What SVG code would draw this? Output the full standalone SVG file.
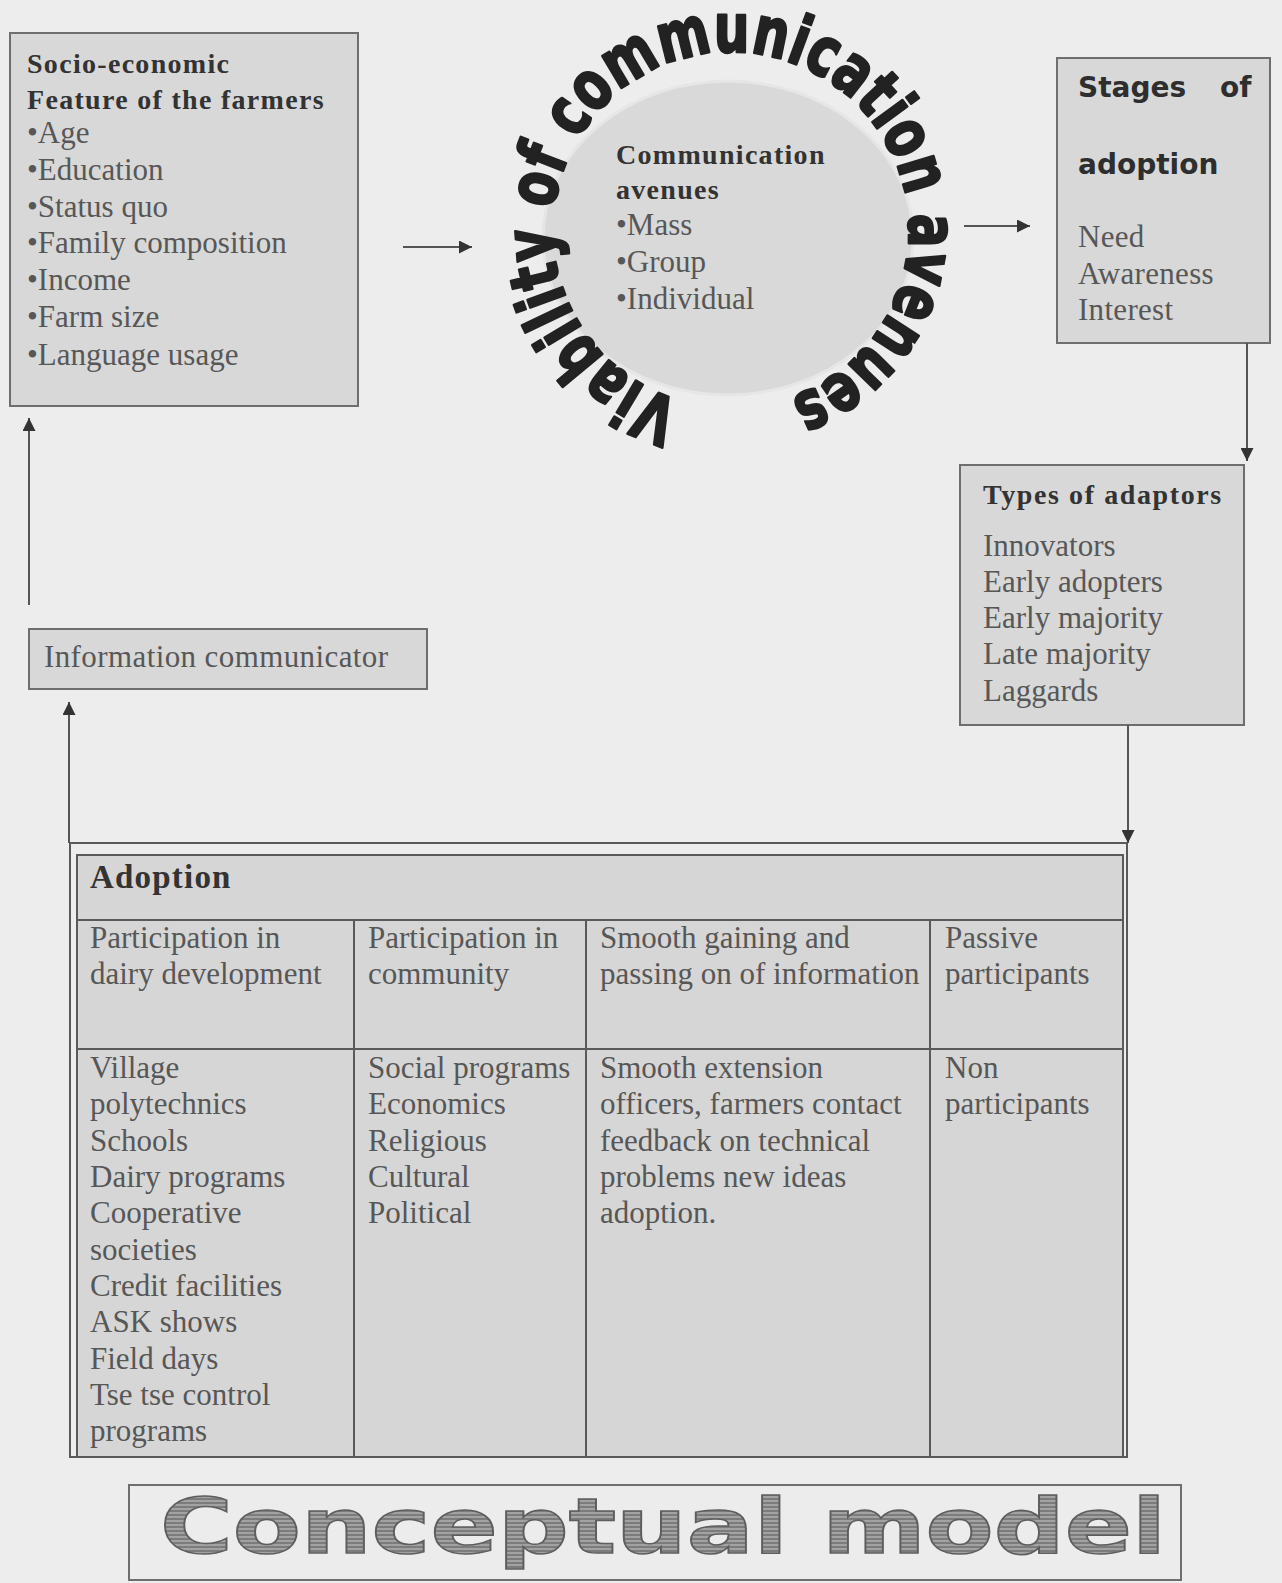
<svg xmlns="http://www.w3.org/2000/svg" width="1282" height="1583" viewBox="0 0 1282 1583">
<defs>
<style>
.box{fill:#d8d8d8;stroke:#6e6e6e;stroke-width:2}
.reg{font-family:"Liberation Serif","Times New Roman",serif;font-size:31px;fill:#575757}
.tab{font-family:"Liberation Serif","Times New Roman",serif;font-size:31px;fill:#575757}
.bold{font-family:"Liberation Serif","Times New Roman",serif;font-size:28px;font-weight:bold;letter-spacing:1.3px;fill:#333}
.sans{font-family:"DejaVu Sans","Liberation Sans",sans-serif;font-size:28px;font-weight:bold;fill:#2e2e2e}
.ln{fill:none;stroke:#5a5a5a;stroke-width:2}
.conn{fill:none;stroke:#555;stroke-width:2}
</style>
<marker id="ah" viewBox="0 0 10 10" refX="10" refY="5" markerWidth="16" markerHeight="13" markerUnits="userSpaceOnUse" orient="auto">
<path d="M0,0 L10,5 L0,10 z" fill="#333"/>
</marker>
<pattern id="stripes" patternUnits="userSpaceOnUse" width="4" height="4">
<rect width="4" height="4" fill="#7c7c7c"/>
<rect width="4" height="2" fill="#a2a2a2"/>
</pattern>
<path id="ring" d="M681.9,401.1 A178,178 0 1 1 783.0,400.2"/>
</defs>
<rect width="1282" height="1583" fill="#ededed"/>

<g id="socio">
<rect class="box" x="10" y="33" width="348" height="373"/>
<text class="bold" x="27" y="73">Socio-economic</text>
<text class="bold" x="27" y="109">Feature of the farmers</text>
<text class="reg" x="27" y="143">•Age</text>
<text class="reg" x="27" y="180">•Education</text>
<text class="reg" x="27" y="217">•Status quo</text>
<text class="reg" x="27" y="253">•Family composition</text>
<text class="reg" x="27" y="290">•Income</text>
<text class="reg" x="27" y="327">•Farm size</text>
<text class="reg" x="27" y="365">•Language usage</text>
</g>

<g id="avenues">
<ellipse cx="728" cy="238" rx="185" ry="157" fill="#d9d9d9" stroke="#e6e6e6" stroke-width="3"/>
<text style="font-family:'DejaVu Sans','Liberation Sans',sans-serif;font-size:68px;font-weight:bold;fill:#222;stroke:#222;stroke-width:2.5;stroke-linejoin:round"><textPath href="#ring" textLength="1008" lengthAdjust="spacingAndGlyphs">Viability of communication avenues</textPath></text>
<text class="bold" x="616" y="164">Communication</text>
<text class="bold" x="616" y="199">avenues</text>
<text class="reg" x="616" y="235">•Mass</text>
<text class="reg" x="616" y="272">•Group</text>
<text class="reg" x="616" y="309">•Individual</text>
</g>

<g id="stages">
<rect class="box" x="1057" y="58" width="213" height="285"/>
<text class="sans" x="1078" y="97">Stages</text>
<text class="sans" x="1220" y="97">of</text>
<text class="sans" x="1078" y="174">adoption</text>
<text class="reg" x="1078" y="247" style="letter-spacing:0.3px">Need</text>
<text class="reg" x="1078" y="284" style="letter-spacing:0.3px">Awareness</text>
<text class="reg" x="1078" y="320" style="letter-spacing:0.3px">Interest</text>
</g>

<g id="types">
<rect class="box" x="960" y="465" width="284" height="260"/>
<text class="bold" x="983" y="504" style="letter-spacing:1.6px">Types of adaptors</text>
<text class="reg" x="983" y="556">Innovators</text>
<text class="reg" x="983" y="592">Early adopters</text>
<text class="reg" x="983" y="628">Early majority</text>
<text class="reg" x="983" y="664">Late majority</text>
<text class="reg" x="983" y="701">Laggards</text>
</g>

<g id="communicator">
<rect class="box" x="29" y="629" width="398" height="60"/>
<text class="reg" x="44" y="667" style="letter-spacing:0.4px">Information communicator</text>
</g>

<g id="adoption">
<rect x="70" y="843" width="1057" height="614" fill="none" stroke="#5a5a5a" stroke-width="2"/>
<rect x="77" y="855" width="1046" height="602" fill="#d6d6d6" stroke="#5a5a5a" stroke-width="2"/>
<line class="ln" x1="77" y1="920" x2="1123" y2="920"/>
<line class="ln" x1="77" y1="1049" x2="1123" y2="1049"/>
<line class="ln" x1="354" y1="920" x2="354" y2="1457"/>
<line class="ln" x1="586" y1="920" x2="586" y2="1457"/>
<line class="ln" x1="930" y1="920" x2="930" y2="1457"/>
<text x="90" y="888" style="font-family:'Liberation Serif','Times New Roman',serif;font-size:33px;font-weight:bold;letter-spacing:1.2px;fill:#333">Adoption</text>
<text class="tab" x="90" y="948">Participation in</text>
<text class="tab" x="90" y="984">dairy development</text>
<text class="tab" x="368" y="948">Participation in</text>
<text class="tab" x="368" y="984">community</text>
<text class="tab" x="600" y="948">Smooth gaining and</text>
<text class="tab" x="600" y="984">passing on of information</text>
<text class="tab" x="945" y="948">Passive</text>
<text class="tab" x="945" y="984">participants</text>
<text class="tab" x="90" y="1078">Village</text>
<text class="tab" x="90" y="1114">polytechnics</text>
<text class="tab" x="90" y="1151">Schools</text>
<text class="tab" x="90" y="1187">Dairy programs</text>
<text class="tab" x="90" y="1223">Cooperative</text>
<text class="tab" x="90" y="1260">societies</text>
<text class="tab" x="90" y="1296">Credit facilities</text>
<text class="tab" x="90" y="1332">ASK shows</text>
<text class="tab" x="90" y="1369">Field days</text>
<text class="tab" x="90" y="1405">Tse tse control</text>
<text class="tab" x="90" y="1441">programs</text>
<text class="tab" x="368" y="1078">Social programs</text>
<text class="tab" x="368" y="1114">Economics</text>
<text class="tab" x="368" y="1151">Religious</text>
<text class="tab" x="368" y="1187">Cultural</text>
<text class="tab" x="368" y="1223">Political</text>
<text class="tab" x="600" y="1078">Smooth extension</text>
<text class="tab" x="600" y="1114">officers, farmers contact</text>
<text class="tab" x="600" y="1151">feedback on technical</text>
<text class="tab" x="600" y="1187">problems new ideas</text>
<text class="tab" x="600" y="1223">adoption.</text>
<text class="tab" x="945" y="1078">Non</text>
<text class="tab" x="945" y="1114">participants</text>
</g>

<g id="title">
<rect x="129" y="1485" width="1052" height="95" fill="#ececec" stroke="#6e6e6e" stroke-width="2"/>
<text x="160" y="1553" textLength="1006" lengthAdjust="spacingAndGlyphs" style="font-family:'DejaVu Sans','Liberation Sans',sans-serif;font-size:76px;font-weight:bold;fill:url(#stripes);stroke:#5e5e5e;stroke-width:1.5">Conceptual model</text>
</g>

<g id="connectors">
<path class="conn" d="M403,247 H472" marker-end="url(#ah)"/>
<path class="conn" d="M964,226 H1030" marker-end="url(#ah)"/>
<path class="conn" d="M1247,343 V461" marker-end="url(#ah)"/>
<path class="conn" d="M1128,725 V843" marker-end="url(#ah)"/>
<path class="conn" d="M69,843 V702" marker-end="url(#ah)"/>
<path class="conn" d="M29,605 V418" marker-end="url(#ah)"/>
</g>
</svg>
